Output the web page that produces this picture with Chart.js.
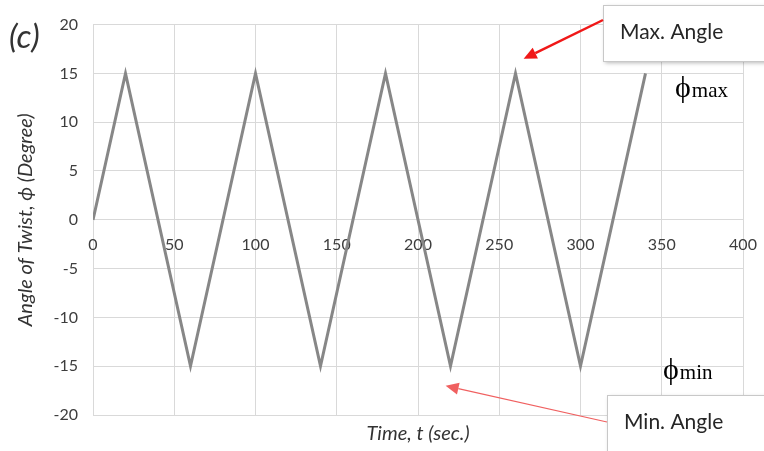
<!DOCTYPE html>
<html>
<head>
<meta charset="utf-8">
<script src="https://cdn.jsdelivr.net/npm/chart.js@4.4.1/dist/chart.umd.min.js"></script>
<style>
  html, body { margin: 0; padding: 0; background: #fff; }
  #wrap { position: relative; width: 764px; height: 451px; }
</style>
</head>
<body>
<div id="wrap"><canvas id="twistChart"></canvas></div>
<script>
// Ángulo de torsión frente al tiempo (onda triangular)
const tiempos = [0, 20, 60, 100, 140, 180, 220, 260, 300, 340];
const angulos = [0, 15, -15, 15, -15, 15, -15, 15, -15, 15];

const xTicks = [0, 50, 100, 150, 200, 250, 300, 350, 400];
const yTicks = [-20, -15, -10, -5, 0, 5, 10, 15, 20];

const FUENTE = 'Lato, "Open Sans", sans-serif';
const SERIF = '"Liberation Serif", "DejaVu Serif", serif';

function flecha(ctx, x1, y1, x2, y2, color, ancho, largo, abertura) {
    const ang = Math.atan2(y2 - y1, x2 - x1);
    const bx = x2 - largo * Math.cos(ang);
    const by = y2 - largo * Math.sin(ang);
    ctx.save();
    ctx.strokeStyle = color;
    ctx.fillStyle = color;
    ctx.lineWidth = ancho;
    ctx.beginPath();
    ctx.moveTo(x1, y1);
    ctx.lineTo(bx, by);
    ctx.stroke();
    ctx.beginPath();
    ctx.moveTo(x2, y2);
    ctx.lineTo(bx + abertura * Math.sin(ang), by - abertura * Math.cos(ang));
    ctx.lineTo(bx - abertura * Math.sin(ang), by + abertura * Math.cos(ang));
    ctx.closePath();
    ctx.fill();
    ctx.restore();
}

function recuadro(ctx, x, y, w, h, texto) {
    ctx.save();
    ctx.shadowColor = 'rgba(0,0,0,0.28)';
    ctx.shadowBlur = 4;
    ctx.shadowOffsetX = 2;
    ctx.shadowOffsetY = 2;
    ctx.fillStyle = '#ffffff';
    ctx.fillRect(x, y, w, h);
    ctx.restore();
    ctx.save();
    ctx.strokeStyle = '#c8c8c8';
    ctx.lineWidth = 1;
    ctx.strokeRect(x + 0.5, y + 0.5, w, h);
    ctx.fillStyle = '#262626';
    ctx.font = '21px ' + FUENTE;
    ctx.textBaseline = 'middle';
    ctx.fillText(texto, x + 17, y + 27);
    ctx.restore();
}

function phi(ctx, x, y, sub) {
    ctx.save();
    ctx.fillStyle = '#000';
    ctx.textBaseline = 'alphabetic';
    ctx.font = '30px ' + SERIF;
    ctx.fillText('\u03D5', x, y);
    const w = ctx.measureText('\u03D5').width;
    ctx.font = '21px ' + SERIF;
    ctx.fillText(sub, x + w + 1, y);
    ctx.restore();
}

// anotaciones: (c), recuadros, flechas y etiquetas phi
const anotaciones = {
    id: 'anotaciones',
    afterDraw(chart) {
        const ctx = chart.ctx;
        const sx = chart.scales.x, sy = chart.scales.y;

        ctx.save();
        ctx.fillStyle = '#333';
        ctx.font = 'italic 33px ' + FUENTE;
        ctx.textBaseline = 'middle';
        ctx.fillText('(c)', 9, 37);
        ctx.restore();

        phi(ctx, 675, 97, 'max');
        phi(ctx, 663, 379, 'min');

        recuadro(ctx, 603, 5, 200, 56, 'Max. Angle');
        flecha(ctx, 603, 20, sx.getPixelForValue(265), sy.getPixelForValue(16.5), '#f01818', 2.5, 13, 6);

        recuadro(ctx, 607, 395, 200, 60, 'Min. Angle');
        flecha(ctx, 607, 422, sx.getPixelForValue(217), sy.getPixelForValue(-17), '#f06060', 1.2, 13, 6);
    }
};

const ctx = document.getElementById('twistChart');

new Chart(ctx, {
    type: 'scatter',
    data: {
        datasets: [{
            data: tiempos.map((t, i) => ({ x: t, y: angulos[i] })),
            showLine: true,
            borderColor: '#878787',
            borderWidth: 3,
            pointRadius: 0,
            tension: 0
        }]
    },
    options: {
        responsive: true,
        maintainAspectRatio: false,
        animation: false,
        layout: { padding: { left: 0, top: 18, right: 21, bottom: 0 } },
        plugins: {
            legend: { display: false },
            tooltip: { enabled: false }
        },
        scales: {
            x: {
                type: 'linear',
                position: { y: 0 },
                min: 0,
                max: 400,
                afterBuildTicks: s => { s.ticks = xTicks.map(v => ({ value: v })); },
                afterFit: s => { s.paddingLeft = 0; s.paddingRight = 0; },
                grid: { color: '#d9d9d9', lineWidth: 1, drawTicks: false },
                border: { display: false },
                ticks: { color: '#3d3d3d', font: { family: FUENTE, size: 16 }, padding: 15, maxRotation: 0 }
            },
            x2: {
                type: 'linear',
                position: 'bottom',
                grid: { display: false },
                border: { display: false },
                ticks: { display: false },
                afterFit: s => { s.height = 36; },
                title: {
                    display: true,
                    text: 'Time, t (sec.)',
                    color: '#333',
                    font: { family: FUENTE, size: 20, style: 'italic' },
                    padding: { top: 0, bottom: 5 }
                }
            },
            y: {
                type: 'linear',
                min: -20,
                max: 20,
                afterBuildTicks: s => { s.ticks = yTicks.map(v => ({ value: v })); },
                afterFit: s => { s.width = 93; },
                grid: { color: '#d9d9d9', lineWidth: 1, drawTicks: false },
                border: { display: false },
                ticks: { color: '#3d3d3d', font: { family: FUENTE, size: 16 }, padding: 15 },
                title: {
                    display: true,
                    text: 'Angle of Twist, \u03D5 (Degree)',
                    color: '#333',
                    font: { family: FUENTE, size: 20, style: 'italic' },
                    padding: { top: 14, bottom: 0 }
                }
            }
        }
    },
    plugins: [anotaciones]
});
</script>
</body>
</html>
